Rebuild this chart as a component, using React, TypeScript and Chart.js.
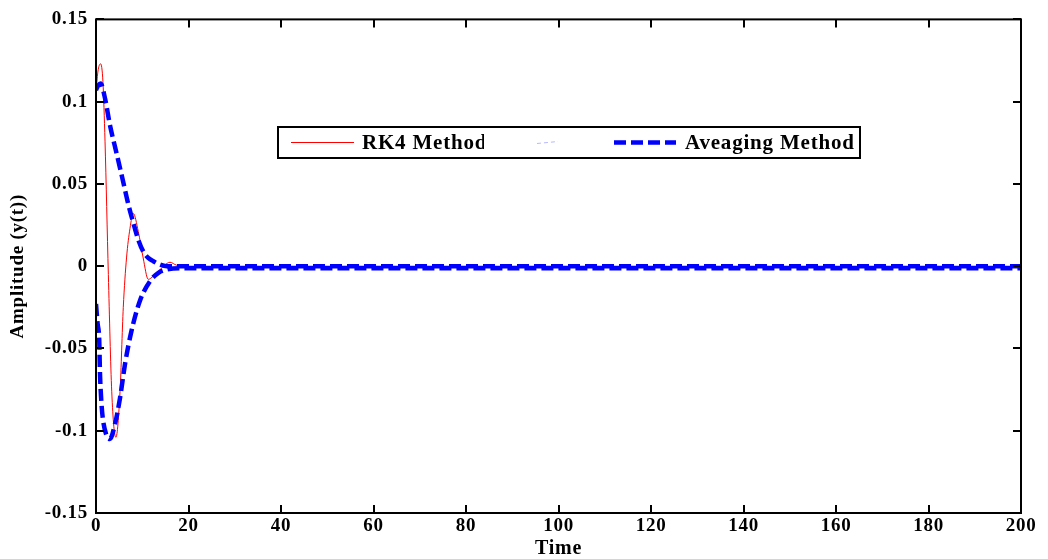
import React, { useEffect, useRef } from "react";
import { Chart, registerables } from "chart.js";

Chart.register(...registerables);

// ---- Data ----
const rk4Time = [0, 0.4, 1.0, 1.5, 1.95, 2.67, 3.4, 4.3, 5.2, 5.9, 6.6, 7.35, 8.07, 9.15, 10.2, 11.3, 12.4, 13.5, 14.8, 16.0, 17.4, 19, 25, 200];
const rk4Values = [0.105, 0.118, 0.123, 0.112, 0.076, -0.005, -0.076, -0.104, -0.076, -0.025, 0.005, 0.023, 0.032, 0.021, 0.005, -0.008, -0.006, -0.003, 0.0005, 0.0024, 0.0006, 0, 0, 0];

const avgUpperTime = [0, 0.5, 1.0, 1.95, 3.0, 4.5, 5.9, 7.0, 8.1, 9.15, 10.2, 11.3, 12.4, 13.8, 15.3, 18, 200];
const avgUpperValues = [0.107, 0.11, 0.111, 0.102, 0.086, 0.068, 0.051, 0.0375, 0.026, 0.016, 0.009, 0.005, 0.003, 0.001, 0, 0, 0];

const avgLowerTime = [0, 0.35, 0.7, 0.86, 1.15, 1.45, 2.3, 3.0, 4.1, 5.2, 6.3, 7.7, 9.5, 11.7, 13.5, 15.3, 18, 200];
const avgLowerValues = [-0.023, -0.035, -0.045, -0.065, -0.082, -0.092, -0.103, -0.105, -0.096, -0.08, -0.059, -0.039, -0.021, -0.009, -0.004, -0.002, -0.0012, -0.0012];

const xTickValues = [0, 20, 40, 60, 80, 100, 120, 140, 160, 180, 200];
const yTickValues = [-0.15, -0.1, -0.05, 0, 0.05, 0.1, 0.15];
const seriesLabels = ["RK4 Method", "", "Aveaging Method"];

const toPoints = (xs: number[], ys: number[]) => xs.map((x, i) => ({ x, y: ys[i] }));

const FONT = "'Liberation Serif', 'Times New Roman', serif";

const spacingPlugin = {
  id: "letterSpacing",
  beforeDraw(chart: any) {
    (chart.ctx as any).letterSpacing = "0.75px";
  },
};

const framePlugin = {
  id: "frameTicks",
  afterDatasetsDraw(chart: any) {
    const { ctx, chartArea, scales } = chart;
    const { left, right, top, bottom } = chartArea;
    ctx.save();
    ctx.strokeStyle = "#000";
    ctx.lineWidth = 2;
    ctx.strokeRect(left, top, right - left, bottom - top);
    const len = 8;
    ctx.beginPath();
    xTickValues.forEach((v) => {
      const x = Math.round(scales.x.getPixelForValue(v));
      ctx.moveTo(x, bottom);
      ctx.lineTo(x, bottom - len);
      ctx.moveTo(x, top);
      ctx.lineTo(x, top + len);
    });
    yTickValues.forEach((v) => {
      const y = Math.round(scales.y.getPixelForValue(v));
      ctx.moveTo(left, y);
      ctx.lineTo(left + len, y);
      ctx.moveTo(right, y);
      ctx.lineTo(right - len, y);
    });
    ctx.stroke();
    ctx.restore();
  },
};

const legendPlugin = {
  id: "matlabLegend",
  afterDraw(chart: any) {
    const { ctx } = chart;
    const ds = chart.data.datasets;
    const bx = 278, by = 127, bw = 582, bh = 31;
    const cy = by + bh / 2;
    ctx.save();
    ctx.fillStyle = "#fff";
    ctx.fillRect(bx, by, bw, bh);
    ctx.strokeStyle = "#000";
    ctx.lineWidth = 2;
    ctx.strokeRect(bx, by, bw, bh);
    ctx.font = `bold 21px ${FONT}`;
    (ctx as any).letterSpacing = "0.8px";
    ctx.textBaseline = "middle";
    ctx.fillStyle = "#000";

    // item 1: red line
    ctx.strokeStyle = ds[0].borderColor;
    ctx.lineWidth = 1;
    ctx.setLineDash([]);
    ctx.beginPath();
    ctx.moveTo(291, cy);
    ctx.lineTo(354, cy);
    ctx.stroke();
    ctx.save();
    ctx.beginPath();
    ctx.rect(355, by, 484 - 355, bh);
    ctx.clip();
    ctx.fillText(ds[0].label, 362, cy + 1);
    ctx.restore();

    // item 2: faint line (no text)
    ctx.strokeStyle = ds[1].borderColor;
    ctx.lineWidth = 1;
    ctx.setLineDash([4, 3]);
    ctx.beginPath();
    ctx.moveTo(537, cy + 1);
    ctx.lineTo(558, cy - 1);
    ctx.stroke();

    // item 3: blue dashed
    ctx.strokeStyle = ds[2].borderColor;
    ctx.lineWidth = 4.5;
    ctx.setLineDash([12, 5]);
    ctx.beginPath();
    ctx.moveTo(614, cy);
    ctx.lineTo(676, cy);
    ctx.stroke();
    ctx.setLineDash([]);
    ctx.fillText(ds[2].label, 685, cy + 1);
    ctx.restore();
  },
};

export default function App() {
  const canvasRef = useRef<HTMLCanvasElement | null>(null);

  useEffect(() => {
    document.body.style.margin = "0";
    const canvas = canvasRef.current;
    if (!canvas) return;
    const chart = new Chart(canvas, {
      type: "line",
      data: {
        datasets: [
          {
            label: seriesLabels[0],
            data: toPoints(rk4Time, rk4Values),
            borderColor: "#ff0000",
            borderWidth: 1,
            pointRadius: 0,
            cubicInterpolationMode: "monotone",
            order: 2,
          },
          {
            label: seriesLabels[1],
            data: [],
            borderColor: "#b8b8ff",
            borderWidth: 1,
            pointRadius: 0,
          },
          {
            label: seriesLabels[2],
            data: toPoints(avgUpperTime, avgUpperValues),
            borderColor: "#0000ff",
            borderWidth: 4.5,
            borderDash: [12, 5],
            pointRadius: 0,
            cubicInterpolationMode: "monotone",
            order: 1,
          },
          {
            label: seriesLabels[2] + " (lower)",
            data: toPoints(avgLowerTime, avgLowerValues),
            borderColor: "#0000ff",
            borderWidth: 4.5,
            borderDash: [12, 5],
            pointRadius: 0,
            cubicInterpolationMode: "monotone",
            order: 1,
          },
        ],
      } as any,
      options: {
        animation: false,
        responsive: false,
        maintainAspectRatio: false,
        parsing: false as any,
        layout: { padding: { left: 0, top: 17, right: 27, bottom: 0 } },
        plugins: { legend: { display: false }, tooltip: { enabled: false } },
        scales: {
          x: {
            type: "linear",
            min: 0,
            max: 200,
            afterFit: (s: any) => { s.height = 46; },
            afterBuildTicks: (s: any) => { s.ticks = xTickValues.map((v) => ({ value: v })); },
            grid: { display: false, drawTicks: false },
            border: { display: false },
            ticks: {
              color: "#000",
              padding: 2,
              maxRotation: 0,
              font: { family: FONT, size: 19, weight: "bold" },
            },
            title: {
              display: true,
              text: "Time",
              color: "#000",
              padding: 0,
              font: { family: FONT, size: 20, weight: "bold", lineHeight: 1 },
            },
          },
          y: {
            type: "linear",
            min: -0.15,
            max: 0.15,
            afterFit: (s: any) => { s.width = 96; },
            afterBuildTicks: (s: any) => { s.ticks = yTickValues.map((v) => ({ value: v })); },
            grid: { display: false, drawTicks: false },
            border: { display: false },
            ticks: {
              color: "#000",
              padding: 8,
              font: { family: FONT, size: 19, weight: "bold" },
              callback: (v: any) => String(Number(Number(v).toFixed(2))),
            },
            title: {
              display: true,
              text: "Amplitude (y(t))",
              color: "#000",
              padding: { top: 7, bottom: 0 },
              font: { family: FONT, size: 19, weight: "bold" },
            },
          },
        },
      },
      plugins: [spacingPlugin, framePlugin, legendPlugin],
    } as any);
    return () => chart.destroy();
  }, []);

  return (
    <div style={{ width: 1048, height: 559, background: "#fff" }}>
      <canvas ref={canvasRef} width={1048} height={559} style={{ display: "block" }} />
    </div>
  );
}
